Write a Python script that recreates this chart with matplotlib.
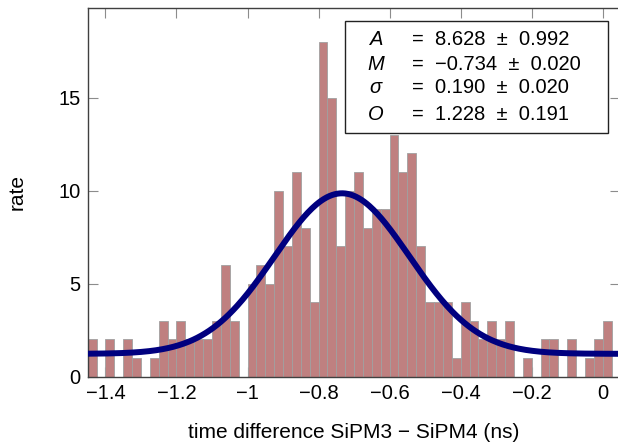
"""
Histogram of SiPM3 - SiPM4 time differences with a Gaussian + offset fit.
"""

import numpy as np
import matplotlib
matplotlib.use("Agg")
import matplotlib.pyplot as plt
from matplotlib.patches import Rectangle

plt.rcParams["font.family"] = ["Liberation Sans", "DejaVu Sans"]
plt.rcParams["mathtext.fontset"] = "custom"
plt.rcParams["mathtext.rm"] = "Liberation Sans"
plt.rcParams["mathtext.it"] = "Liberation Sans:italic"
plt.rcParams["mathtext.bf"] = "Liberation Sans:bold"

# ---------------------------------------------------------------------------
# data
# ---------------------------------------------------------------------------
BIN_START = -1.45
BIN_WIDTH = 0.025
COUNTS = [2, 0, 2, 0, 2, 1, 0, 1, 3, 2,
          3, 2, 2, 2, 3, 6, 3, 0, 5, 6,
          5, 10, 7, 11, 8, 4, 18, 15, 7, 10,
          11, 8, 9, 9, 13, 11, 12, 7, 4, 4,
          4, 1, 4, 3, 2, 3, 2, 3, 0, 1,
          0, 2, 2, 0, 2, 0, 1, 2, 3, 0]

# fit parameters: value, error
FIT_NAMES = ["A", "M", r"\sigma", "O"]
FIT_VALUES = [8.628, -0.734, 0.190, 1.228]
FIT_ERRORS = [0.992, 0.020, 0.020, 0.191]

X_TICKS = [-1.4, -1.2, -1.0, -0.8, -0.6, -0.4, -0.2, 0.0]
X_TICK_LABELS = ["\u22121.4", "\u22121.2", "\u22121", "\u22120.8", "\u22120.6",
                 "\u22120.4", "\u22120.2", "0"]
Y_TICKS = [0, 5, 10, 15]

FS_TICK = 14.5
FS_LABEL = 15


def gauss(x, A, M, s, O):
    return A * np.exp(-(x - M) ** 2 / (2 * s ** 2)) + O


# ---------------------------------------------------------------------------
# plot
# ---------------------------------------------------------------------------
fig = plt.figure(figsize=(6.18, 4.43), dpi=100)
ax = fig.add_axes([0.1419, 0.1497, 0.8621, 0.8316])

counts = np.array(COUNTS)
edges = BIN_START + BIN_WIDTH * np.arange(len(counts))
x_end = BIN_START + BIN_WIDTH * len(counts)

ax.bar(edges, counts, width=BIN_WIDTH, align="edge", color="#bf8080",
       edgecolor="#a0a0a0", linewidth=0.6, zorder=2)

xs = np.linspace(BIN_START, x_end, 400)
ax.plot(xs, gauss(xs, *FIT_VALUES), color="#00007f", linewidth=4.3,
        solid_capstyle="butt", zorder=3)

ax.set_xlim(BIN_START, x_end)
ax.set_ylim(0, counts.max() * 1.1)

ax.set_xticks(X_TICKS)
ax.set_xticklabels(X_TICK_LABELS)
ax.set_yticks(Y_TICKS)
ax.tick_params(direction="in", length=7.5, width=0.8, color="#8c8c8c",
               labelsize=FS_TICK, top=True, right=True, pad=5)

for sp in ax.spines.values():
    sp.set_color("#404040")
    sp.set_linewidth(1.0)

ax.set_xlabel("time difference SiPM3 \u2212 SiPM4 (ns)", fontsize=FS_LABEL,
              labelpad=15)
ax.set_ylabel("rate", fontsize=FS_LABEL, labelpad=23)

# fit result box
box = Rectangle((0.483, 0.6616), 0.4936, 0.3039, transform=ax.transAxes,
                facecolor="white", edgecolor="#222222", linewidth=1.0, zorder=4)
ax.add_patch(box)
row_y = [0.9164, 0.848, 0.7857, 0.7124]
for name, val, err, y in zip(FIT_NAMES, FIT_VALUES, FIT_ERRORS, row_y):
    ax.text(0.541, y, f"${name}$", transform=ax.transAxes, ha="center",
            va="center", fontsize=FS_TICK, zorder=5)
    txt = f"=  {val:.3f}  \u00b1  {err:.3f}".replace("-", "\u2212")
    ax.text(0.6087, y, txt, transform=ax.transAxes,
            ha="left", va="center", fontsize=FS_TICK, zorder=5)

fig.savefig("out.png", dpi=100)
